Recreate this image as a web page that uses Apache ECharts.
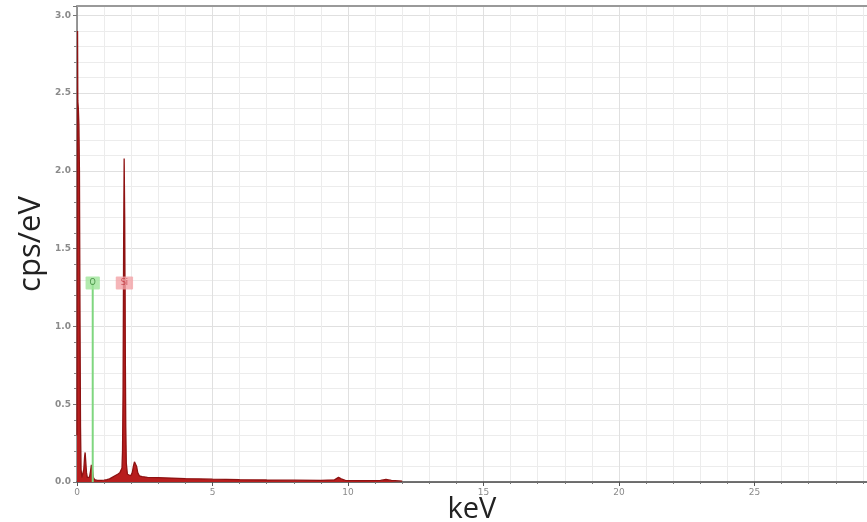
<!DOCTYPE html>
<html>
<head>
<meta charset="utf-8">
<script src="https://cdn.jsdelivr.net/npm/echarts@6/dist/echarts.min.js"></script>
<style>
  html, body { margin: 0; padding: 0; background: #fff; }
  #chart { width: 867px; height: 522px; }
</style>
</head>
<body>
<div id="chart"></div>
<script>
// EDS spectrum: energy (keV) and intensity (cps/eV)
const energy = [
  0.00, 0.01, 0.02, 0.03, 0.05, 0.07, 0.09, 0.11, 0.13, 0.15, 0.18,
  0.22, 0.25, 0.28, 0.30, 0.32, 0.35, 0.38, 0.42, 0.46, 0.50, 0.53, 0.55, 0.57, 0.60, 0.65,
  0.75, 0.90, 1.00, 1.10, 1.20, 1.30, 1.40, 1.50, 1.58, 1.62, 1.66, 1.68, 1.70, 1.72, 1.74,
  1.76, 1.78, 1.80, 1.82, 1.86, 1.92, 1.98, 2.04, 2.08, 2.12, 2.16, 2.20, 2.24, 2.30,
  2.40, 2.60, 3.00, 3.50, 4.00, 5.00, 6.00, 7.00, 8.00, 9.00, 9.50, 9.65, 9.75, 9.90,
  10.50, 11.20, 11.40, 11.60, 12.00
];
const cps = [
  0.30, 1.60, 2.90, 2.45, 2.40, 2.30, 2.00, 1.10, 0.35, 0.08, 0.03,
  0.03, 0.08, 0.16, 0.19, 0.14, 0.06, 0.03, 0.02, 0.03, 0.07, 0.11, 0.12, 0.08, 0.03, 0.015,
  0.010, 0.010, 0.012, 0.015, 0.020, 0.030, 0.040, 0.050, 0.060, 0.070, 0.090, 0.20, 0.60, 1.50, 2.08,
  1.70, 0.90, 0.35, 0.12, 0.05, 0.04, 0.04, 0.06, 0.10, 0.13, 0.14, 0.10, 0.06, 0.04,
  0.035, 0.030, 0.028, 0.025, 0.022, 0.018, 0.015, 0.013, 0.012, 0.011, 0.014, 0.030, 0.020, 0.010,
  0.009, 0.010, 0.016, 0.010, 0.006
];

// Element identification markers
const elements = ['O', 'Si'];
const elementKeV = [0.58, 1.75];
const elementTagLevel = 1.28;

const xTicks = [0, 5, 10, 15, 20, 25];
const yTicks = [0.0, 0.5, 1.0, 1.5, 2.0, 2.5, 3.0];

const spectrum = energy.map((e, i) => [e, cps[i]]);

const tagStyles = {
  O:  { line: '#7fd67f', bg: '#9fe59a', text: '#2f7d2f' },
  Si: { line: '#b01818', bg: '#f2a3a6', text: '#c0343c' }
};

const gridColor = '#ececec';
const axisTextColor = '#8a8a8a';

const chart = echarts.init(document.getElementById('chart'));
chart.setOption({
  animation: false,
  backgroundColor: '#ffffff',
  grid: { left: 77, right: 0, top: 6, bottom: 40, containLabel: false, outerBoundsMode: 'none' },
  xAxis: [{
    type: 'value',
    min: 0,
    max: 29.15,
    interval: 5,
    name: 'keV',
    nameLocation: 'middle',
    nameGap: 13,
    nameMoveOverlap: false,
    nameTextStyle: { fontFamily: 'Open Sans', fontSize: 29, color: '#222' },
    axisLine: { show: true, lineStyle: { color: '#444', width: 1.5 } },
    axisTick: { show: true, length: 4, lineStyle: { color: '#555' } },
    minorTick: { show: true, splitNumber: 5, length: 2, lineStyle: { color: '#777' } },
    axisLabel: {
      color: axisTextColor, fontSize: 9, fontFamily: 'DejaVu Sans', margin: 6,
      formatter: v => xTicks.includes(v) ? String(v) : ''
    },
    splitLine: { show: true, lineStyle: { color: '#e0e0e0', width: 1 } },
    minorSplitLine: { show: true, lineStyle: { color: gridColor, width: 1 } }
  }, {
    type: 'value',
    position: 'top',
    min: 0,
    max: 29.15,
    axisLine: { show: true, lineStyle: { color: '#999', width: 2 } },
    axisTick: { show: false },
    axisLabel: { show: false },
    splitLine: { show: false }
  }],
  yAxis: {
    type: 'value',
    min: 0,
    max: 3.06,
    interval: 0.5,
    name: 'cps/eV',
    nameLocation: 'middle',
    nameGap: 30,
    nameMoveOverlap: false,
    nameRotate: 90,
    nameTextStyle: { fontFamily: 'Open Sans', fontSize: 31, color: '#222' },
    axisLine: { show: true, lineStyle: { color: '#777', width: 1.5 } },
    axisTick: { show: true, length: 4, lineStyle: { color: '#777' } },
    minorTick: { show: true, splitNumber: 5, length: 3, lineStyle: { color: '#888' } },
    axisLabel: {
      color: axisTextColor, fontSize: 9, fontFamily: 'DejaVu Sans', fontWeight: 'bold', margin: 6,
      formatter: v => {
        const hit = yTicks.find(t => Math.abs(t - v) < 1e-6);
        return hit === undefined ? '' : hit.toFixed(1);
      }
    },
    splitLine: { show: true, lineStyle: { color: '#e0e0e0', width: 1 } },
    minorSplitLine: { show: true, lineStyle: { color: gridColor, width: 1 } }
  },
  series: [
    {
      type: 'line',
      data: spectrum,
      symbol: 'none',
      lineStyle: { color: '#8e1212', width: 1.3 },
      areaStyle: { color: '#b81e1e', opacity: 1 },
      z: 3
    },
    // element marker lines from the baseline to the tag
    ...elements.map((el, i) => ({
      type: 'line',
      data: [[elementKeV[i], 0], [elementKeV[i], elementTagLevel]],
      symbol: 'none',
      lineStyle: { color: tagStyles[el].line, width: 2 },
      z: el === 'O' ? 4 : 2
    })),
    // element tags
    {
      type: 'scatter',
      data: elements.map((el, i) => ({
        value: [elementKeV[i], elementTagLevel],
        label: {
          show: true,
          position: 'inside',
          formatter: el,
          color: tagStyles[el].text,
          backgroundColor: tagStyles[el].bg,
          fontSize: 8,
          fontFamily: 'DejaVu Sans',
          padding: [3, el === 'O' ? 4 : 5, 2, el === 'O' ? 4 : 5],
          borderRadius: 1
        }
      })),
      symbolSize: 0,
      z: 6
    }
  ]
});
</script>
</body>
</html>
